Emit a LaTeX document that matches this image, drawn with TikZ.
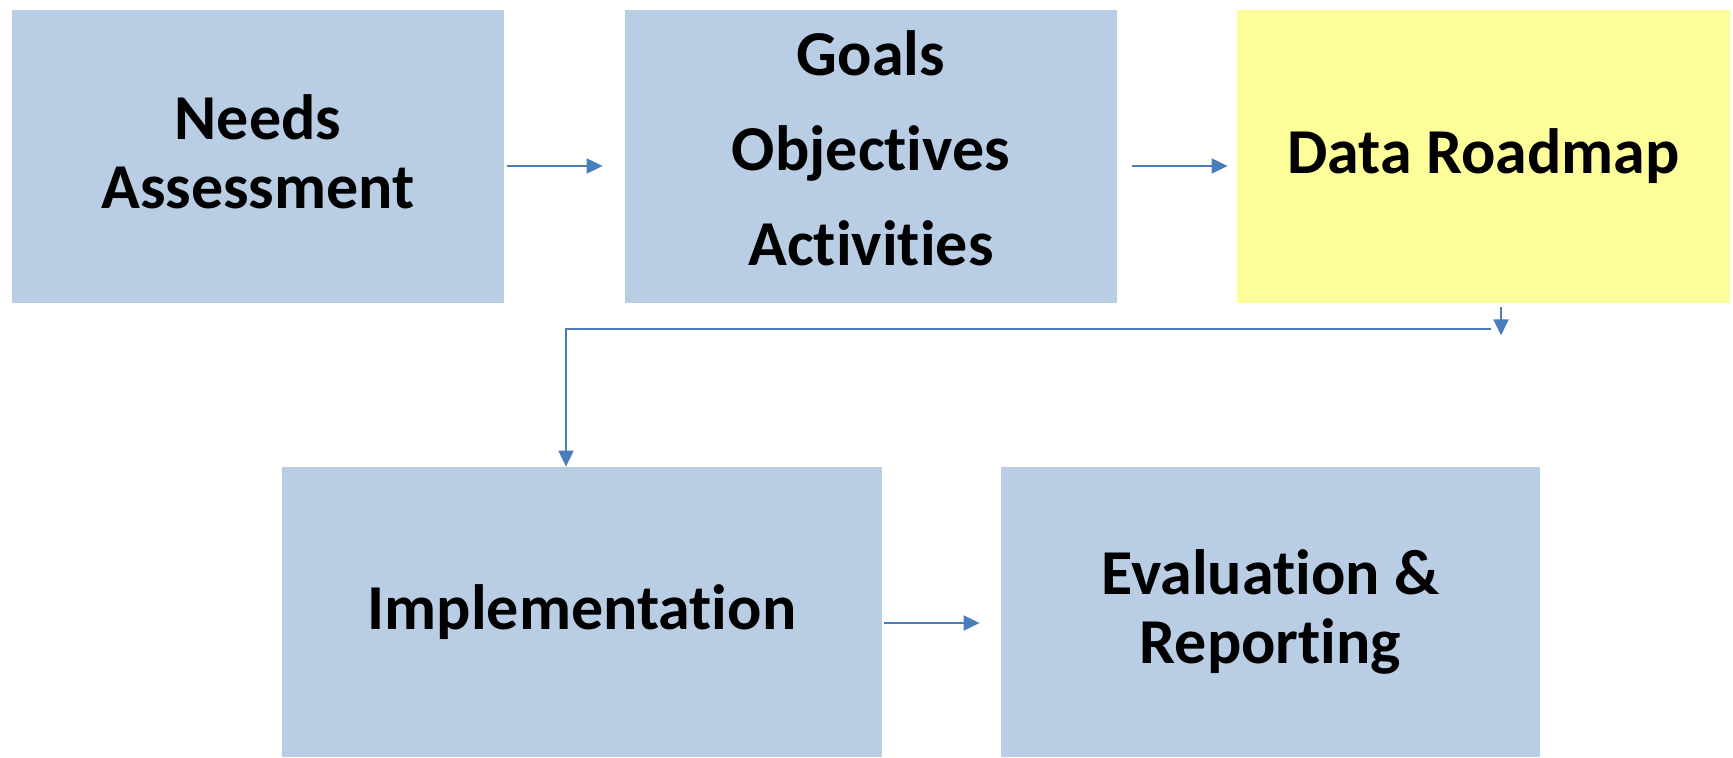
\documentclass[tikz,border=0pt]{standalone}
\usepackage{fontspec}
\setmainfont{Carlito}[Ligatures=NoCommon]
\usetikzlibrary{arrows.meta,shapes}

\definecolor{boxblue}{HTML}{B9CDE5}
\definecolor{boxyellow}{HTML}{FDFD99}
\definecolor{linkblue}{HTML}{4A7EBB}

\tikzset{
  stage/.style={fill=boxblue, draw=none, align=center, inner sep=0pt,
    font=\fontsize{32}{34.5}\selectfont\bfseries},
  flow/.style={draw=linkblue, line width=1pt, -{Triangle[length=8pt,width=7.5pt]}}
}

\begin{document}
\begin{tikzpicture}[x=50pt,y=50pt]
      \useasboundingbox (0,0) rectangle (17.33,7.57);
%      \draw [help lines] (0,0) grid (17,7);
      \node [stage, minimum width=246pt, minimum height=146.5pt, text depth=4.5pt] (needs) at (2.58,6.005) {Needs\\Assessment};
      \node [stage, minimum width=246pt, minimum height=146.5pt, text depth=8pt,
             font=\fontsize{32}{47.5}\selectfont\bfseries] (goals) at (8.71,6.005) {Goals\\Objectives\\Activities};
      \node [stage, fill=boxyellow, minimum width=246.5pt, minimum height=146.5pt] (roadmap) at (14.835,6.005) {Data Roadmap};
      \node [stage, minimum width=300pt, minimum height=145pt] (impl) at (5.82,1.45) {Implementation};
      \node [stage, minimum width=269.5pt, minimum height=145pt] (eval) at (12.705,1.45) {Evaluation \&\\Reporting};
      \draw [flow] ([shift={(0.03,-0.095)}]needs.east) -- ([shift={(-0.22,-0.095)}]goals.west);
      \draw [flow] ([shift={(0.15,-0.095)}]goals.east) -- ([shift={(-0.09,-0.095)}]roadmap.west);
      \draw [flow] ([shift={(0.175,-0.04)}]roadmap.south) -- ++(0,-0.28);
      \coordinate (bend) at ([shift={(0.075,-0.26)}]roadmap.south);
      \draw [flow] (bend) -| ([xshift=-16pt/2]impl.north);
      \draw [flow] ([shift={(0.02,-0.11)}]impl.east) -- ([shift={(-0.21,-0.11)}]eval.west);
\end{tikzpicture}
\end{document}
